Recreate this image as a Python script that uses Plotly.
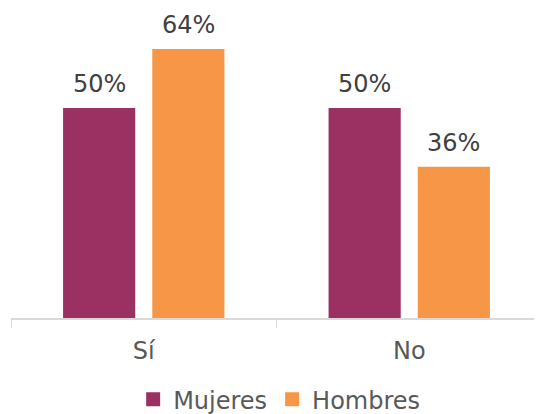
import plotly.graph_objects as go

categories = ["Sí", "No"]
mujeres = [50, 50]
hombres = [64, 36]
series_names = ["Mujeres", "Hombres"]
colors = ["#9B3163", "#F79646"]

FONT = "DejaVu Sans"
BARGAP = 0.328
GROUPGAP = 0.191

fig = go.Figure()
for name, vals, col in zip(series_names, [mujeres, hombres], colors):
    fig.add_trace(go.Bar(
        x=categories, y=vals, name=name, marker_color=col,
        marker_line_width=0, showlegend=False, hoverinfo="skip",
    ))
    # legend proxy with larger square symbol
    fig.add_trace(go.Scatter(
        x=[None], y=[None], mode="markers", name=name,
        marker=dict(symbol="square", size=14, color=col),
    ))

# data labels positioned from the data values
slot = (1 - BARGAP) / 2  # slot width per series in category units
for vals, sign in zip([mujeres, hombres], [-1, 1]):
    for j, v in enumerate(vals):
        fig.add_annotation(
            x=j + sign * slot / 2, y=v, xref="x", yref="y",
            text=f"{v}%", showarrow=False, yanchor="bottom", yshift=8,
            font=dict(size=24, color="#404040", family=FONT),
        )

# page body has an 8px margin, so the figure is sized to fit the window
fig.update_layout(
    width=534, height=406,
    margin=dict(l=3, r=0, t=2, b=96, autoexpand=False),
    plot_bgcolor="white", paper_bgcolor="white",
    barmode="group", bargap=BARGAP, bargroupgap=GROUPGAP,
    font=dict(family=FONT, size=24, color="#595959"),
    showlegend=True,
    legend=dict(orientation="h", x=0.505, xanchor="center", y=-0.265, yanchor="middle",
                font=dict(size=24, color="#595959"), itemwidth=30, tracegroupgap=0,
                itemclick=False),
)
fig.update_xaxes(type="category", showline=True, linecolor="#D9D9D9", linewidth=1.5,
                 ticks="outside", tickson="boundaries", ticklen=8, tickcolor="#D9D9D9",
                 tickfont=dict(size=24, color="#595959"), showgrid=False,
                 ticklabelstandoff=10, automargin=False, range=[-0.5, 1.5])
fig.update_yaxes(range=[0, 73.3], visible=False, showgrid=False, automargin=False)

fig.write_html("out.html")
